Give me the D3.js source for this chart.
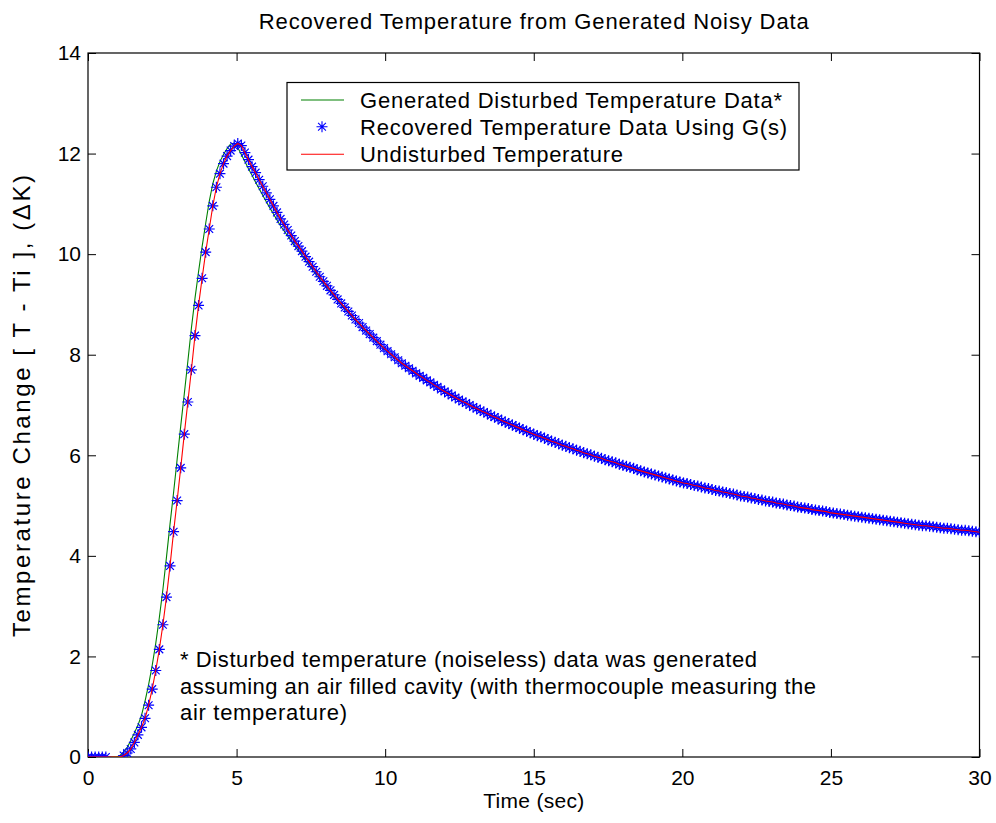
<!DOCTYPE html>
<html>
<head>
<meta charset="utf-8">
<script src="https://cdn.jsdelivr.net/npm/d3@7"></script>
<style>
  html, body { margin: 0; padding: 0; background: #fff; }
  svg { display: block; font-family: "Liberation Sans", Arial, Helvetica, sans-serif; }
</style>
</head>
<body>
<svg id="chart" width="996" height="823"></svg>
<script>
// Sampling interval of all three series (seconds)
const dt = 0.12;

// Undisturbed temperature rise, dK, one value per sample
const undisturbed = [
  0,0,0,0,0,0,0,0,0,0,
  0.03,0.08,0.16,0.29,0.44,0.59,0.77,1.03,1.35,1.72,
  2.14,2.63,3.18,3.80,4.48,5.10,5.75,6.42,7.06,7.70,
  8.38,8.98,9.52,10.04,10.50,10.96,11.33,11.60,11.80,11.95,
  12.06,12.15,12.20,12.16,12.02,11.88,11.74,11.62,11.48,11.35,
  11.22,11.09,10.96,10.83,10.70,10.59,10.48,10.37,10.26,10.16,
  10.06,9.95,9.85,9.75,9.65,9.55,9.46,9.37,9.28,9.19,
  9.10,9.02,8.94,8.86,8.78,8.70,8.63,8.55,8.48,8.41,
  8.34,8.27,8.20,8.13,8.07,8.01,7.95,7.89,7.83,7.78,
  7.73,7.68,7.63,7.58,7.54,7.49,7.45,7.40,7.36,7.31,
  7.27,7.23,7.19,7.15,7.11,7.07,7.04,7.00,6.96,6.93,
  6.89,6.86,6.83,6.79,6.76,6.73,6.69,6.66,6.63,6.60,
  6.57,6.54,6.51,6.48,6.45,6.42,6.39,6.37,6.34,6.31,
  6.28,6.26,6.23,6.20,6.18,6.15,6.13,6.10,6.08,6.05,
  6.03,6.01,5.98,5.96,5.94,5.91,5.89,5.87,5.85,5.82,
  5.80,5.78,5.76,5.74,5.71,5.69,5.67,5.65,5.63,5.61,
  5.59,5.57,5.55,5.53,5.51,5.49,5.47,5.45,5.44,5.42,
  5.40,5.39,5.37,5.35,5.34,5.32,5.30,5.29,5.27,5.26,
  5.24,5.23,5.21,5.19,5.18,5.17,5.15,5.14,5.12,5.11,
  5.09,5.08,5.07,5.05,5.04,5.03,5.01,5.00,4.99,4.97,
  4.96,4.95,4.94,4.92,4.91,4.90,4.89,4.88,4.86,4.85,
  4.84,4.83,4.82,4.81,4.80,4.79,4.78,4.77,4.76,4.75,
  4.74,4.73,4.72,4.71,4.70,4.69,4.68,4.67,4.66,4.65,
  4.64,4.63,4.62,4.61,4.60,4.60,4.59,4.58,4.57,4.56,
  4.55,4.55,4.54,4.53,4.52,4.51,4.51,4.50,4.49,4.48,4.47
];

// Generated disturbed temperature (air-filled cavity), dK
const disturbed = [
  0,0,0,0,0,0,0,0,0,0.03,
  0.10,0.19,0.33,0.48,0.63,0.83,1.11,1.44,1.82,2.26,
  2.77,3.33,3.97,4.63,5.26,5.92,6.58,7.22,7.87,8.53,
  9.12,9.65,10.15,10.61,11.05,11.40,11.65,11.84,11.98,12.10,
  12.19,12.21,12.12,11.98,11.84,11.70,11.57,11.43,11.30,11.17,
  11.04,10.92,10.80,10.68,10.56,10.46,10.36,10.26,10.16,10.07,
  9.97,9.87,9.78,9.68,9.59,9.50,9.41,9.32,9.24,9.15,
  9.07,8.99,8.91,8.83,8.76,8.68,8.61,8.53,8.46,8.39,
  8.32,8.25,8.18,8.12,8.06,8.00,7.94,7.88,7.82,7.77,
  7.72,7.67,7.62,7.58,7.53,7.49,7.44,7.40,7.35,7.31,
  7.27,7.23,7.19,7.15,7.11,7.07,7.04,7.00,6.96,6.93,
  6.89,6.86,6.83,6.79,6.76,6.73,6.69,6.66,6.63,6.60,
  6.57,6.54,6.51,6.48,6.45,6.42,6.39,6.37,6.34,6.31,
  6.28,6.26,6.23,6.20,6.18,6.15,6.13,6.10,6.08,6.05,
  6.03,6.01,5.98,5.96,5.94,5.91,5.89,5.87,5.85,5.82,
  5.80,5.78,5.76,5.74,5.71,5.69,5.67,5.65,5.63,5.61,
  5.59,5.57,5.55,5.53,5.51,5.49,5.47,5.45,5.44,5.42,
  5.40,5.39,5.37,5.35,5.34,5.32,5.30,5.29,5.27,5.26,
  5.24,5.23,5.21,5.19,5.18,5.17,5.15,5.14,5.12,5.11,
  5.09,5.08,5.07,5.05,5.04,5.03,5.01,5.00,4.99,4.97,
  4.96,4.95,4.94,4.92,4.91,4.90,4.89,4.88,4.86,4.85,
  4.84,4.83,4.82,4.81,4.80,4.79,4.78,4.77,4.76,4.75,
  4.74,4.73,4.72,4.71,4.70,4.69,4.68,4.67,4.66,4.65,
  4.64,4.63,4.62,4.61,4.60,4.60,4.59,4.58,4.57,4.56,
  4.55,4.55,4.54,4.53,4.52,4.51,4.51,4.50,4.49,4.48,4.47
];

// Temperature recovered from the disturbed data using G(s), dK
// (samples below zero fall outside the axes and are not drawn)
const recovered = [
  0,0,0,0,0,0,-0.02,-0.04,-0.03,-0.01,
  0.03,0.08,0.16,0.29,0.44,0.59,0.77,1.03,1.35,1.72,
  2.14,2.63,3.18,3.80,4.48,5.10,5.75,6.42,7.06,7.70,
  8.38,8.98,9.52,10.04,10.50,10.96,11.33,11.60,11.80,11.95,
  12.06,12.15,12.20,12.16,12.02,11.88,11.74,11.62,11.48,11.35,
  11.22,11.09,10.96,10.83,10.70,10.59,10.48,10.37,10.26,10.16,
  10.06,9.95,9.85,9.75,9.65,9.55,9.46,9.37,9.28,9.19,
  9.10,9.02,8.94,8.86,8.78,8.70,8.63,8.55,8.48,8.41,
  8.34,8.27,8.20,8.13,8.07,8.01,7.95,7.89,7.83,7.78,
  7.73,7.68,7.63,7.58,7.54,7.49,7.45,7.40,7.36,7.31,
  7.27,7.23,7.19,7.15,7.11,7.07,7.04,7.00,6.96,6.93,
  6.89,6.86,6.83,6.79,6.76,6.73,6.69,6.66,6.63,6.60,
  6.57,6.54,6.51,6.48,6.45,6.42,6.39,6.37,6.34,6.31,
  6.28,6.26,6.23,6.20,6.18,6.15,6.13,6.10,6.08,6.05,
  6.03,6.01,5.98,5.96,5.94,5.91,5.89,5.87,5.85,5.82,
  5.80,5.78,5.76,5.74,5.71,5.69,5.67,5.65,5.63,5.61,
  5.59,5.57,5.55,5.53,5.51,5.49,5.47,5.45,5.44,5.42,
  5.40,5.39,5.37,5.35,5.34,5.32,5.30,5.29,5.27,5.26,
  5.24,5.23,5.21,5.19,5.18,5.17,5.15,5.14,5.12,5.11,
  5.09,5.08,5.07,5.05,5.04,5.03,5.01,5.00,4.99,4.97,
  4.96,4.95,4.94,4.92,4.91,4.90,4.89,4.88,4.86,4.85,
  4.84,4.83,4.82,4.81,4.80,4.79,4.78,4.77,4.76,4.75,
  4.74,4.73,4.72,4.71,4.70,4.69,4.68,4.67,4.66,4.65,
  4.64,4.63,4.62,4.61,4.60,4.60,4.59,4.58,4.57,4.56,
  4.55,4.55,4.54,4.53,4.52,4.51,4.51,4.50,4.49,4.48,4.47
];

const xTicks = [0, 5, 10, 15, 20, 25, 30];
const yTicks = [0, 2, 4, 6, 8, 10, 12, 14];

const legendLabels = [
  "Generated Disturbed Temperature Data*",
  "Recovered Temperature Data Using G(s)",
  "Undisturbed Temperature"
];
const noteLines = [
  "* Disturbed temperature (noiseless) data was generated",
  "assuming an air filled cavity (with thermocouple measuring the",
  "air temperature)"
];

const colors = { disturbed: "#008000", recovered: "#0000ff", undisturbed: "#ff0000" };

// ---- layout ----
const plot = { left: 88, right: 979.5, top: 53, bottom: 757 };
const svg = d3.select("#chart");

const x = d3.scaleLinear().domain([0, 30]).range([plot.left, plot.right]);
const y = d3.scaleLinear().domain([0, 14]).range([plot.bottom, plot.top]);

const toPoints = arr => arr.map((v, i) => ({ t: i * dt, v }));

svg.append("defs").append("clipPath").attr("id", "plotClip")
  .append("rect")
  .attr("x", plot.left).attr("y", plot.top)
  .attr("width", plot.right - plot.left).attr("height", plot.bottom - plot.top);

// ---- axes (ticks point inward, mirrored on top/right) ----
const tickLen = 8;
const fontTick = 21;

const gx = svg.append("g").attr("transform", `translate(0,${plot.bottom})`)
  .call(d3.axisBottom(x).tickValues(xTicks).tickSizeInner(-tickLen).tickSizeOuter(0).tickPadding(13).tickFormat(d3.format("d")));
const gxTop = svg.append("g").attr("transform", `translate(0,${plot.top})`)
  .call(d3.axisTop(x).tickValues(xTicks).tickSizeInner(-tickLen).tickSizeOuter(0).tickFormat(""));
const gy = svg.append("g").attr("transform", `translate(${plot.left},0)`)
  .call(d3.axisLeft(y).tickValues(yTicks).tickSizeInner(-tickLen).tickSizeOuter(0).tickPadding(7).tickFormat(d3.format("d")));
const gyRight = svg.append("g").attr("transform", `translate(${plot.right},0)`)
  .call(d3.axisRight(y).tickValues(yTicks).tickSizeInner(-tickLen).tickSizeOuter(0).tickFormat(""));

[gx, gxTop, gy, gyRight].forEach(g => {
  g.select(".domain").remove();
  g.selectAll(".tick line").attr("stroke", "#000").attr("stroke-width", 1);
  g.selectAll(".tick text").attr("fill", "#000").attr("font-size", fontTick)
    .attr("font-family", "Liberation Sans, Arial, sans-serif");
});
gx.selectAll(".tick text").attr("dy", "0.71em");

// plot box
svg.append("rect")
  .attr("x", plot.left).attr("y", plot.top)
  .attr("width", plot.right - plot.left).attr("height", plot.bottom - plot.top)
  .attr("fill", "none").attr("stroke", "#000").attr("stroke-width", 1.2);

// ---- series ----
const line = d3.line().x(d => x(d.t)).y(d => y(d.v));
const series = svg.append("g").attr("clip-path", "url(#plotClip)");

series.append("path").datum(toPoints(disturbed))
  .attr("d", line).attr("fill", "none")
  .attr("stroke", colors.disturbed).attr("stroke-width", 1.1);

// asterisk marker
const r = 5.5, dd = 3.9;
const starPath = `M${-r},0H${r}M0,${-r}V${r}M${-dd},${-dd}L${dd},${dd}M${-dd},${dd}L${dd},${-dd}`;

series.append("g").selectAll("path")
  .data(toPoints(recovered).filter(d => d.v >= y.domain()[0] && d.v <= y.domain()[1]))
  .join("path")
  .attr("transform", d => `translate(${x(d.t)},${y(d.v)})`)
  .attr("d", starPath)
  .attr("fill", "none").attr("stroke", colors.recovered).attr("stroke-width", 1.2);

series.append("path").datum(toPoints(undisturbed))
  .attr("d", line).attr("fill", "none")
  .attr("stroke", colors.undisturbed).attr("stroke-width", 1.1);

// helper: text stretched to a set width
function label(parent, txt, xPos, yPos, size, width, anchor) {
  return parent.append("text")
    .attr("x", xPos).attr("y", yPos)
    .attr("text-anchor", anchor || "start")
    .attr("font-size", size).attr("fill", "#000")
    .attr("textLength", width).attr("lengthAdjust", "spacing")
    .text(txt);
}

// ---- titles ----
const cx = (plot.left + plot.right) / 2;
label(svg, "Recovered Temperature from Generated Noisy Data", cx, 29, 22, 550, "middle");
label(svg, "Time (sec)", cx, 808, 21, 101, "middle");
label(svg.append("g").attr("transform", `translate(30,${(plot.top + plot.bottom) / 2 + 1}) rotate(-90)`),
  "Temperature Change [ T - Ti ], (\u0394K)", 0, 0, 24, 462, "middle");

// ---- legend ----
const legend = svg.append("g");
const lg = { left: 287, top: 82.5, width: 512, height: 87.5 };
legend.append("rect")
  .attr("x", lg.left).attr("y", lg.top).attr("width", lg.width).attr("height", lg.height)
  .attr("fill", "#fff").attr("stroke", "#000").attr("stroke-width", 1.2);

const rowY = [100, 126.7, 154.3];
const legendWidths = [422, 427, 263];
const keys = ["disturbed", "recovered", "undisturbed"];
keys.forEach((k, i) => {
  if (k === "recovered") {
    legend.append("path")
      .attr("transform", `translate(322,${rowY[i]})`)
      .attr("d", starPath).attr("fill", "none")
      .attr("stroke", colors[k]).attr("stroke-width", 1.1);
  } else {
    legend.append("line")
      .attr("x1", 301).attr("x2", 344).attr("y1", rowY[i]).attr("y2", rowY[i])
      .attr("stroke", colors[k]).attr("stroke-width", 1.1);
  }
  label(legend, legendLabels[i], 360, rowY[i] + 8, 22, legendWidths[i]);
});

// ---- note ----
const noteY = [667, 693.5, 720];
const noteWidths = [577, 636, 167];
const note = svg.append("g");
noteLines.forEach((d, i) => label(note, d, 180, noteY[i], 22, noteWidths[i]));
</script>
</body>
</html>
